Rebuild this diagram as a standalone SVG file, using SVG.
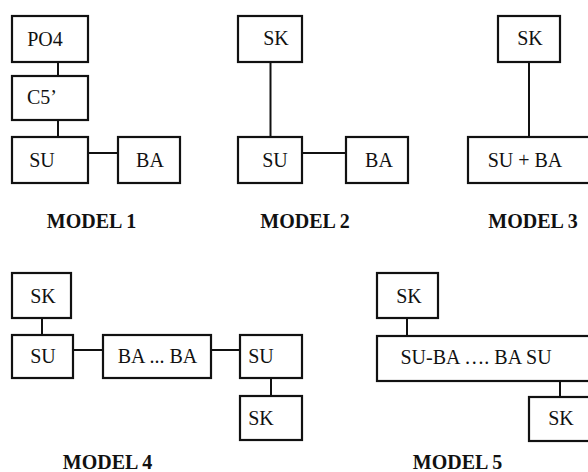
<svg xmlns="http://www.w3.org/2000/svg" width="588" height="472" viewBox="0 0 588 472">
<style>
rect{fill:#fff;stroke:#111;stroke-width:2.2}
line{stroke:#111;stroke-width:2}
text{font-family:"Liberation Serif","Times New Roman",serif;font-size:20px;fill:#111;text-anchor:middle}
text.t{font-weight:bold}
</style>
<rect x="0" y="0" width="588" height="472" style="stroke:none"/>
<g id="connectors">
<line x1="58" y1="62" x2="58" y2="76"/>
<line x1="58" y1="120" x2="58" y2="137"/>
<line x1="88" y1="153" x2="118" y2="153"/>
<line x1="270.5" y1="62" x2="270.5" y2="137"/>
<line x1="302" y1="153" x2="346" y2="153"/>
<line x1="529" y1="62" x2="529" y2="137"/>
<line x1="42" y1="318" x2="42" y2="335"/>
<line x1="73" y1="350" x2="103" y2="350"/>
<line x1="211" y1="350" x2="240" y2="350"/>
<line x1="271" y1="378" x2="271" y2="396"/>
<line x1="407" y1="318" x2="407" y2="336"/>
<line x1="560" y1="381" x2="560" y2="397"/>
</g>
<g id="m1-po4"><rect x="12" y="16" width="76" height="46"/><text x="45" y="46">PO4</text></g>
<g id="m1-c5"><rect x="12" y="76" width="76" height="44"/><text x="42" y="104">C5’</text></g>
<g id="m1-su"><rect x="12" y="137" width="76" height="46"/><text x="42" y="167">SU</text></g>
<g id="m1-ba"><rect x="118" y="137" width="62" height="46"/><text x="150" y="167">BA</text></g>
<g id="m2-sk"><rect x="238" y="16" width="64" height="46"/><text x="276" y="45">SK</text></g>
<g id="m2-su"><rect x="238" y="137" width="64" height="46"/><text x="275" y="167">SU</text></g>
<g id="m2-ba"><rect x="346" y="137" width="62" height="46"/><text x="379" y="167">BA</text></g>
<g id="m3-sk"><rect x="498" y="16" width="62" height="46"/><text x="530" y="45">SK</text></g>
<g id="m3-suba"><rect x="468" y="137" width="130" height="46"/><text x="525" y="167">SU + BA</text></g>
<g id="m4-sk1"><rect x="12" y="273" width="59" height="45"/><text x="43" y="303">SK</text></g>
<g id="m4-su1"><rect x="12" y="335" width="61" height="43"/><text x="43" y="363">SU</text></g>
<g id="m4-ba"><rect x="103" y="335" width="108" height="43"/><text x="157.5" y="363">BA ... BA</text></g>
<g id="m4-su2"><rect x="240" y="335" width="62" height="43"/><text x="261" y="363">SU</text></g>
<g id="m4-sk2"><rect x="240" y="396" width="62" height="44"/><text x="261" y="425">SK</text></g>
<g id="m5-sk1"><rect x="377" y="273" width="61" height="45"/><text x="409" y="303">SK</text></g>
<g id="m5-chain"><rect x="377" y="336" width="221" height="45"/><text x="476" y="364">SU-BA …. BA SU</text></g>
<g id="m5-sk2"><rect x="529" y="397" width="69" height="44"/><text x="561" y="425">SK</text></g>
<g id="labels">
<text class="t" x="91.5" y="228">MODEL 1</text>
<text class="t" x="305" y="228">MODEL 2</text>
<text class="t" x="533" y="228">MODEL 3</text>
<text class="t" x="107.5" y="469">MODEL 4</text>
<text class="t" x="457.5" y="469">MODEL 5</text>
</g>
</svg>
